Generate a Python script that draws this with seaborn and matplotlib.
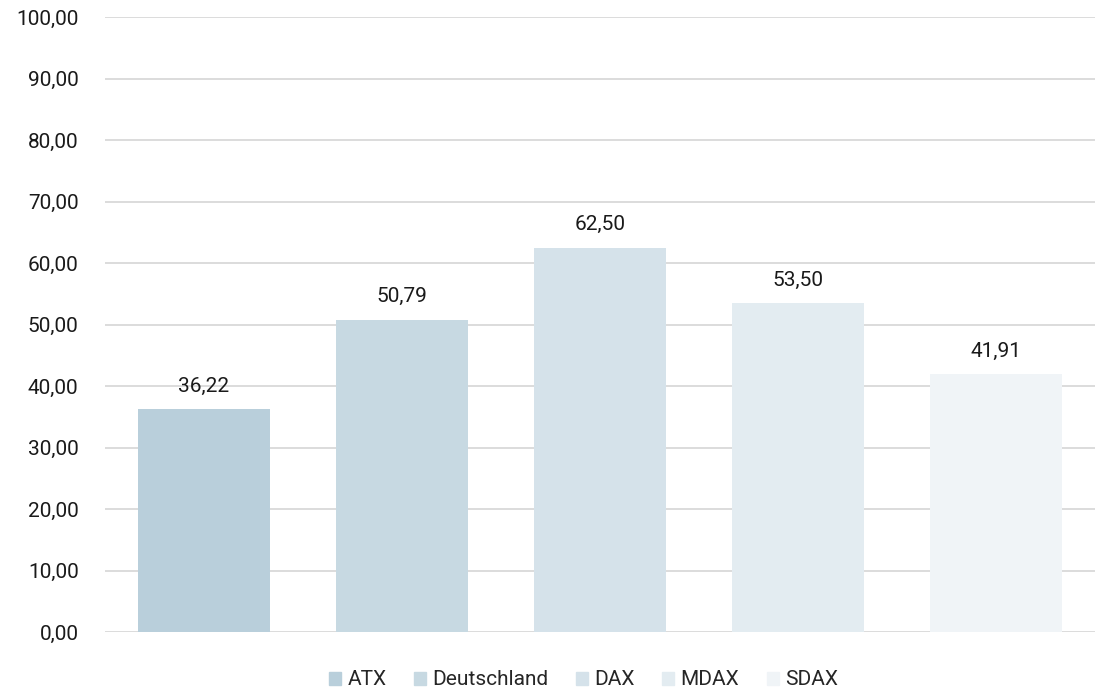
import matplotlib
matplotlib.use("Agg")
import matplotlib.pyplot as plt
import seaborn as sns
import pandas as pd
from matplotlib.ticker import FuncFormatter

# data
categories = ["ATX", "Deutschland", "DAX", "MDAX", "SDAX"]
values = [36.22, 50.79, 62.50, 53.50, 41.91]
colors = ["#b9cfdb", "#c7d9e2", "#d5e2ea", "#e3ecf1", "#f0f4f7"]

df = pd.DataFrame({"Index": categories, "Wert": values})

sns.set_theme(style="white")
plt.rcParams["font.family"] = ["Roboto", "DejaVu Sans"]

fig = plt.figure(figsize=(11.01, 6.93), dpi=100)
ax = fig.add_axes([105 / 1101, 61 / 693, 990 / 1101, 615 / 693])

sns.barplot(data=df, x="Index", y="Wert", hue="Index", palette=colors,
            dodge=False, width=0.67, saturation=1, linewidth=0,
            ax=ax, legend=False)

ax.set_ylim(0, 100)
ax.set_yticks(range(0, 101, 10))
ax.yaxis.set_major_formatter(FuncFormatter(lambda v, p: f"{v:.2f}".replace(".", ",")))
ax.yaxis.grid(True, color="#d9d9d9", linewidth=1.3)
ax.set_axisbelow(True)
for s in ax.spines.values():
    s.set_visible(False)
ax.tick_params(axis="y", length=0, pad=19, labelsize=15, labelcolor="#1a1a1a")
ax.set_xticks([])
ax.set_xlabel("")
ax.set_ylabel("")

for i, v in enumerate(values):
    ax.text(i, v + 2.2, f"{v:.2f}".replace(".", ","), ha="center", va="bottom",
            fontsize=15, color="#1a1a1a")

handles = [plt.Rectangle((0, 0), 1, 1, color=c) for c in colors]
fig.legend(handles, categories, loc="lower center", bbox_to_anchor=(0.53, -0.022),
           ncol=5, frameon=False, fontsize=15, handlelength=0.6, handleheight=0.6,
           handletextpad=0.3, columnspacing=1.3)

fig.savefig("out.png", dpi=100)
